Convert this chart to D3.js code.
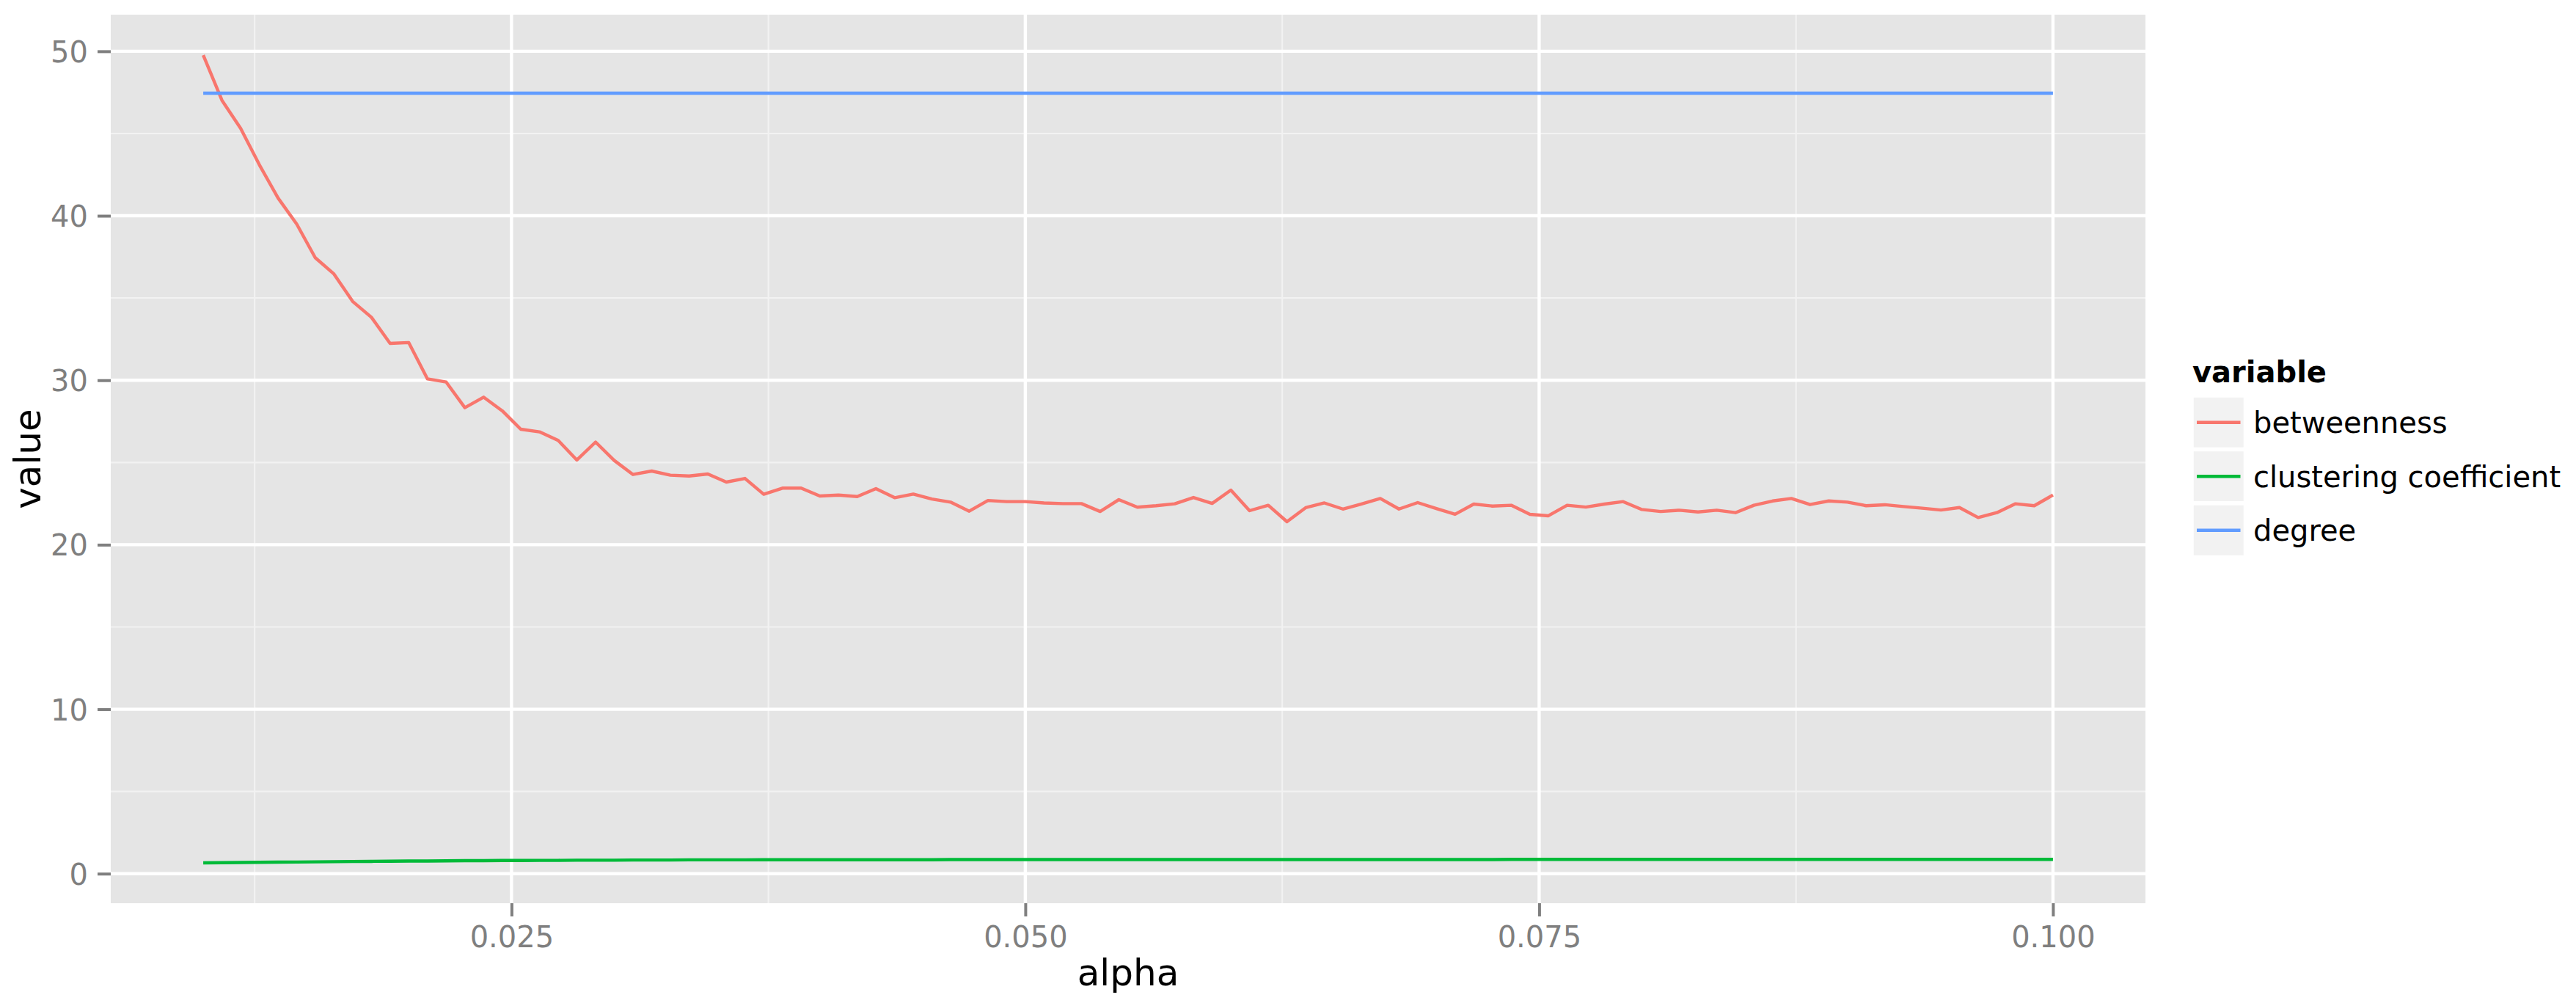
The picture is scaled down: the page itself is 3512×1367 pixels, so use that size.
<!DOCTYPE html>
<html>
<head>
<meta charset="utf-8">
<script src="https://cdn.jsdelivr.net/npm/d3@7"></script>
<style>
  body { margin: 0; background: #fff; }
  svg { display: block; }
</style>
</head>
<body>
<div id="chart_container"></div>
<script>
const alpha = [
  0.01000, 0.01091, 0.01182, 0.01273, 0.01364, 0.01455, 0.01545, 0.01636, 0.01727, 0.01818,
  0.01909, 0.02000, 0.02091, 0.02182, 0.02273, 0.02364, 0.02455, 0.02545, 0.02636, 0.02727,
  0.02818, 0.02909, 0.03000, 0.03091, 0.03182, 0.03273, 0.03364, 0.03455, 0.03545, 0.03636,
  0.03727, 0.03818, 0.03909, 0.04000, 0.04091, 0.04182, 0.04273, 0.04364, 0.04455, 0.04545,
  0.04636, 0.04727, 0.04818, 0.04909, 0.05000, 0.05091, 0.05182, 0.05273, 0.05364, 0.05455,
  0.05545, 0.05636, 0.05727, 0.05818, 0.05909, 0.06000, 0.06091, 0.06182, 0.06273, 0.06364,
  0.06455, 0.06545, 0.06636, 0.06727, 0.06818, 0.06909, 0.07000, 0.07091, 0.07182, 0.07273,
  0.07364, 0.07455, 0.07545, 0.07636, 0.07727, 0.07818, 0.07909, 0.08000, 0.08091, 0.08182,
  0.08273, 0.08364, 0.08455, 0.08545, 0.08636, 0.08727, 0.08818, 0.08909, 0.09000, 0.09091,
  0.09182, 0.09273, 0.09364, 0.09455, 0.09545, 0.09636, 0.09727, 0.09818, 0.09909, 0.10000
];

const betweenness = [
  49.77, 47.02, 45.31, 43.10, 41.08, 39.49, 37.45, 36.46, 34.79, 33.83,
  32.24, 32.29, 30.08, 29.89, 28.33, 28.97, 28.14, 27.02, 26.86, 26.34,
  25.15, 26.24, 25.12, 24.27, 24.48, 24.23, 24.18, 24.30, 23.81, 24.03,
  23.07, 23.44, 23.44, 22.96, 23.02, 22.93, 23.41, 22.86, 23.08, 22.78,
  22.59, 22.04, 22.69, 22.62, 22.62, 22.54, 22.50, 22.50, 22.02, 22.74,
  22.28, 22.37, 22.49, 22.87, 22.51, 23.32, 22.07, 22.40, 21.40, 22.25,
  22.54, 22.17, 22.48, 22.81, 22.17, 22.56, 22.20, 21.85, 22.47, 22.35,
  22.40, 21.85, 21.76, 22.40, 22.29, 22.47, 22.62, 22.14, 22.02, 22.10,
  21.99, 22.10, 21.95, 22.40, 22.66, 22.81, 22.44, 22.66, 22.59, 22.37,
  22.43, 22.32, 22.22, 22.11, 22.26, 21.65, 21.95, 22.49, 22.37, 23.02
];

const clustering = [
  0.66, 0.67, 0.68, 0.69, 0.70, 0.71, 0.72, 0.73, 0.74, 0.75,
  0.76, 0.77, 0.77, 0.78, 0.79, 0.79, 0.80, 0.80, 0.81, 0.81,
  0.82, 0.82, 0.82, 0.83, 0.83, 0.83, 0.84, 0.84, 0.84, 0.84,
  0.85, 0.85, 0.85, 0.85, 0.85, 0.85, 0.85, 0.85, 0.85, 0.85,
  0.86, 0.86, 0.86, 0.86, 0.86, 0.86, 0.86, 0.86, 0.86, 0.86,
  0.86, 0.86, 0.86, 0.86, 0.86, 0.86, 0.86, 0.86, 0.86, 0.86,
  0.86, 0.86, 0.86, 0.86, 0.86, 0.86, 0.86, 0.86, 0.86, 0.86,
  0.87, 0.87, 0.87, 0.87, 0.87, 0.87, 0.87, 0.87, 0.87, 0.87,
  0.87, 0.87, 0.87, 0.87, 0.87, 0.87, 0.87, 0.87, 0.87, 0.87,
  0.87, 0.87, 0.87, 0.87, 0.87, 0.87, 0.87, 0.87, 0.87, 0.87
];

const degree = [
  47.45, 47.45, 47.45, 47.45, 47.45, 47.45, 47.45, 47.45, 47.45, 47.45,
  47.45, 47.45, 47.45, 47.45, 47.45, 47.45, 47.45, 47.45, 47.45, 47.45,
  47.45, 47.45, 47.45, 47.45, 47.45, 47.45, 47.45, 47.45, 47.45, 47.45,
  47.45, 47.45, 47.45, 47.45, 47.45, 47.45, 47.45, 47.45, 47.45, 47.45,
  47.45, 47.45, 47.45, 47.45, 47.45, 47.45, 47.45, 47.45, 47.45, 47.45,
  47.45, 47.45, 47.45, 47.45, 47.45, 47.45, 47.45, 47.45, 47.45, 47.45,
  47.45, 47.45, 47.45, 47.45, 47.45, 47.45, 47.45, 47.45, 47.45, 47.45,
  47.45, 47.45, 47.45, 47.45, 47.45, 47.45, 47.45, 47.45, 47.45, 47.45,
  47.45, 47.45, 47.45, 47.45, 47.45, 47.45, 47.45, 47.45, 47.45, 47.45,
  47.45, 47.45, 47.45, 47.45, 47.45, 47.45, 47.45, 47.45, 47.45, 47.45
];

const seriesNames = ["betweenness", "clustering coefficient", "degree"];
const seriesColors = ["#F8766D", "#00BA38", "#619CFF"];
const xTicks = [0.025, 0.050, 0.075, 0.100];
const xMinor = [0.0125, 0.0375, 0.0625, 0.0875];
const yTicks = [0, 10, 20, 30, 40, 50];
const yMinor = [5, 15, 25, 35, 45];

const FONT = "DejaVu Sans, Verdana, sans-serif";
const GREY50 = "#7F7F7F";

let width = 3512, height = 1367;
let panel = { left: 151, right: 2925, top: 20, bottom: 1231 };

let series = [betweenness, clustering, degree].map(function (vals, k) {
    return { name: seriesNames[k], color: seriesColors[k], values: vals.map((v, i) => [alpha[i], v]) };
});

// ggplot style 5% expansion of the data range
function expand(ext) {
    let pad = (ext[1] - ext[0]) * 0.05;
    return [ext[0] - pad, ext[1] + pad];
}
let yAll = betweenness.concat(clustering, degree);

let x = d3.scaleLinear().domain(expand(d3.extent(alpha))).range([panel.left, panel.right]);
let y = d3.scaleLinear().domain(expand(d3.extent(yAll))).range([panel.bottom, panel.top]);

let svg = d3.select("#chart_container").append("svg")
    .attr("width", width).attr("height", height)
    .style("font-family", FONT);

svg.append("rect").attr("width", width).attr("height", height).attr("fill", "#fff");

// panel background
svg.append("rect")
    .attr("x", panel.left).attr("y", panel.top)
    .attr("width", panel.right - panel.left).attr("height", panel.bottom - panel.top)
    .attr("fill", "#E5E5E5");

let grid = svg.append("g");

grid.selectAll(".xminor").data(xMinor).join("line")
    .attr("x1", d => x(d)).attr("x2", d => x(d))
    .attr("y1", panel.top).attr("y2", panel.bottom)
    .attr("stroke", "#F2F2F2").attr("stroke-width", 2.2);

grid.selectAll(".yminor").data(yMinor).join("line")
    .attr("class", "yminor")
    .attr("x1", panel.left).attr("x2", panel.right)
    .attr("y1", d => y(d)).attr("y2", d => y(d))
    .attr("stroke", "#F2F2F2").attr("stroke-width", 2.2);

grid.selectAll(".xmajor").data(xTicks).join("line")
    .attr("class", "xmajor")
    .attr("x1", d => x(d)).attr("x2", d => x(d))
    .attr("y1", panel.top).attr("y2", panel.bottom)
    .attr("stroke", "#fff").attr("stroke-width", 4.4);

grid.selectAll(".ymajor").data(yTicks).join("line")
    .attr("class", "ymajor")
    .attr("x1", panel.left).attr("x2", panel.right)
    .attr("y1", d => y(d)).attr("y2", d => y(d))
    .attr("stroke", "#fff").attr("stroke-width", 4.4);

// data lines
let line = d3.line().x(d => x(d[0])).y(d => y(d[1]));

svg.append("g").selectAll("path").data(series).join("path")
    .attr("d", d => line(d.values))
    .attr("fill", "none")
    .attr("stroke", d => d.color)
    .attr("stroke-width", 4.4)
    .attr("stroke-linejoin", "round");

// axes
let xAxis = d3.axisBottom(x).tickValues(xTicks).tickFormat(d3.format(".3f")).tickSizeInner(18).tickSizeOuter(0).tickPadding(14);
let gx = svg.append("g").attr("transform", "translate(0," + panel.bottom + ")").call(xAxis);
gx.select(".domain").remove();
gx.selectAll(".tick line").attr("stroke", GREY50).attr("stroke-width", 4);
gx.selectAll(".tick text").attr("fill", GREY50).attr("font-size", 40).attr("font-family", FONT)
    .attr("dy", null).attr("y", 60);

let yAxis = d3.axisLeft(y).tickValues(yTicks).tickSizeInner(18).tickSizeOuter(0).tickPadding(13);
let gy = svg.append("g").attr("transform", "translate(" + panel.left + ",0)").call(yAxis);
gy.select(".domain").remove();
gy.selectAll(".tick line").attr("stroke", GREY50).attr("stroke-width", 4);
gy.selectAll(".tick text").attr("fill", GREY50).attr("font-size", 40).attr("font-family", FONT)
    .attr("dy", null).attr("y", 14.5).attr("x", -31);

// axis titles
svg.append("text")
    .attr("x", (panel.left + panel.right) / 2).attr("y", 1343)
    .attr("text-anchor", "middle").attr("font-size", 50).attr("fill", "#000")
    .text("alpha");

svg.append("text")
    .attr("transform", "translate(55," + ((panel.top + panel.bottom) / 2) + ") rotate(-90)")
    .attr("text-anchor", "middle").attr("font-size", 50).attr("fill", "#000")
    .text("value");

// legend
let legend = svg.append("g").attr("transform", "translate(2988,539)");
let keySize = 73.5;

legend.append("text")
    .attr("x", 1).attr("y", -18)
    .attr("font-size", 40).attr("font-weight", "bold").attr("fill", "#000")
    .text("variable");

let items = legend.selectAll(".item").data(series).join("g")
    .attr("class", "item")
    .attr("transform", (d, i) => "translate(0," + (i * keySize) + ")");

items.append("rect")
    .attr("width", keySize).attr("height", keySize)
    .attr("fill", "#F2F2F2").attr("stroke", "#fff").attr("stroke-width", 5.5);

items.append("line")
    .attr("x1", 7).attr("x2", keySize - 7)
    .attr("y1", keySize / 2).attr("y2", keySize / 2)
    .attr("stroke", d => d.color).attr("stroke-width", 4.4);

items.append("text")
    .attr("x", 84).attr("y", keySize / 2 + 14.5)
    .attr("font-size", 40).attr("fill", "#000")
    .text(d => d.name);
</script>
</body>
</html>
